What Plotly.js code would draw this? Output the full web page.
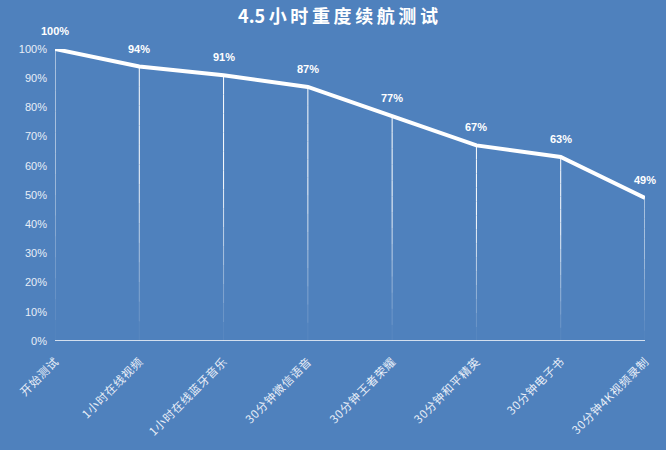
<!DOCTYPE html>
<html><head><meta charset="utf-8">
<script src="https://cdn.plot.ly/plotly-3.0.1.min.js"></script>
<style>html,body{margin:0;padding:0;background:#4f81bd;}</style>
</head><body><div id="chart" style="width:666px;height:450px;"></div>
<script>
const categories = ["开始测试","1小时在线视频","1小时在线蓝牙音乐","30分钟微信语音","30分钟王者荣耀","30分钟和平精英","30分钟电子书","30分钟4K视频录制"];
const batteryPct = [100,94,91,87,77,67,63,49];
const yTickVals = [0,10,20,30,40,50,60,70,80,90,100];
const yTickText = yTickVals.map(v => v + "%");

const xIdx = categories.map((c,i)=>i);
const spaced = categories.map(c => Array.from(c).join('\u200A'));
const traces = [];
const nSeg = 14;
categories.forEach((c,i)=>{
  const v = batteryPct[i];
  for(let s=0;s<nSeg;s++){
    const y0 = v*s/nSeg, y1 = v*(s+1)/nSeg;
    const frac = (s+0.5)/nSeg;
    const op = Math.min(1, Math.max(0.02, frac*1.6));
    traces.push({x:[i,i],y:[y0,y1],mode:'lines',type:'scatter',
      line:{color:'rgba(255,255,255,'+op.toFixed(3)+')',width:1},hoverinfo:'skip',showlegend:false});
  }
});
traces.push({
  x: xIdx, y: batteryPct, mode:'lines', type:'scatter',
  line:{color:'#ffffff',width:4}, showlegend:false
});
const annotations = batteryPct.map((v,i)=>({
  x:i, y:v, xref:'x', yref:'y', text:'<b>'+v+'%</b>', showarrow:false,
  yshift:18, font:{family:'"Liberation Sans", sans-serif', size:11, color:'#ffffff'}
}));
const layout = {
  width:666, height:450,
  paper_bgcolor:'#4f81bd', plot_bgcolor:'#4f81bd',
  margin:{l:55,r:21,t:49,b:109},
  title:{text:'<b>4.5\u2009小\u2009时\u2009重\u2009度\u2009续\u2009航\u2009测\u2009试</b>', x:0.5075, xanchor:'center', y:0.962, yanchor:'middle',
    font:{family:'"Noto Sans CJK SC", sans-serif', size:18, color:'#ffffff'}},
  annotations: annotations,
  xaxis:{range:[0,7], tickvals:xIdx, ticktext:spaced, tickangle:-45,
    showgrid:false, zeroline:false, showline:false, ticks:'', ticklabelstandoff:11,
    tickfont:{family:'"Noto Sans CJK SC", sans-serif', size:11.5, color:'#e8eef8'}},
  yaxis:{range:[0,100], tickvals:yTickVals, ticktext:yTickText, showgrid:false,
    zeroline:false, showline:false, ticks:'', ticklabelstandoff:7,
    tickfont:{family:'"Liberation Sans", sans-serif', size:11, color:'#e8eef8'}},
  shapes:[{type:'line', xref:'x', yref:'y', x0:0, x1:7, y0:0, y1:0, line:{color:'#ffffff', width:1.5}}]
};
Plotly.newPlot('chart', traces, layout, {displayModeBar:false, staticPlot:true});
</script></body></html>
